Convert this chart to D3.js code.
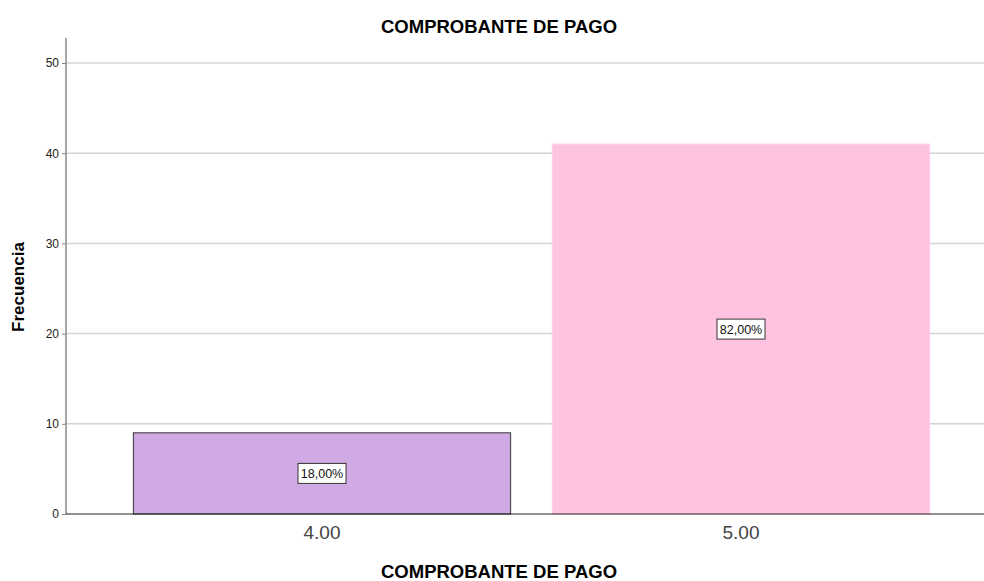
<!DOCTYPE html>
<html>
<head>
<meta charset="utf-8">
<script src="https://d3js.org/d3.v7.min.js"></script>
<style>
  body { margin: 0; background: #fff; }
  text { font-family: Arial, "Liberation Sans", sans-serif; }
</style>
</head>
<body>
<script>
// datos
var categorias = ["4.00", "5.00"];
var frecuencias = [9, 41];
var porcentajes = ["18,00%", "82,00%"];
var ticksY = [0, 10, 20, 30, 40, 50];
var colores = ["#d0aae4", "#fec3e1"];
var bordes = ["#4d4d4d", "#fdd0e6"];

var width = 984, height = 581;
var margin = { top: 38, right: 0, bottom: 67, left: 66 };

var svg = d3.select("body").append("svg")
  .attr("width", width)
  .attr("height", height);

var escalaY = d3.scaleLinear()
  .domain([0, 50])
  .range([514, 63]);

var escalaX = d3.scaleBand()
  .domain(categorias)
  .range([112.5, 950.5])
  .paddingInner(0.1)
  .paddingOuter(0.05);

// lineas de cuadricula
svg.append("g")
  .selectAll("line")
  .data(ticksY.filter(function(d) { return d > 0; }))
  .join("line")
  .attr("x1", margin.left)
  .attr("x2", width)
  .attr("y1", function(d) { return escalaY(d); })
  .attr("y2", function(d) { return escalaY(d); })
  .attr("stroke", "#d4d4d4")
  .attr("stroke-width", 1.5);

// eje Y
var ejeY = d3.axisLeft(escalaY).tickValues(ticksY).tickSize(4).tickPadding(3);
var gY = svg.append("g")
  .attr("transform", "translate(" + margin.left + ",0)")
  .call(ejeY);
gY.select(".domain").attr("d", "M0," + margin.top + "V" + escalaY(0)).attr("stroke", "#888").attr("stroke-width", 1.5);
gY.selectAll(".tick line").attr("stroke", "#888");
gY.selectAll(".tick text").style("font-size", "12px").attr("fill", "#222");

// barras
svg.append("g")
  .selectAll("rect")
  .data(frecuencias)
  .join("rect")
  .attr("x", function(d, i) { return escalaX(categorias[i]); })
  .attr("y", function(d) { return escalaY(d); })
  .attr("width", escalaX.bandwidth())
  .attr("height", function(d) { return escalaY(0) - escalaY(d); })
  .attr("fill", function(d, i) { return colores[i]; })
  .attr("stroke", function(d, i) { return bordes[i]; })
  .attr("stroke-width", 1.2);

// eje X
var ejeX = d3.axisBottom(escalaX).tickSize(0).tickPadding(12);
var gX = svg.append("g")
  .attr("transform", "translate(0," + escalaY(0) + ")")
  .call(ejeX);
gX.select(".domain").attr("d", "M" + margin.left + ",0H" + width).attr("stroke", "#222").attr("stroke-width", 1.2);
gX.selectAll(".tick text").style("font-size", "19px").attr("fill", "#444");

// etiquetas de porcentaje
var etiquetas = svg.append("g")
  .selectAll("g")
  .data(frecuencias)
  .join("g")
  .attr("transform", function(d, i) {
    return "translate(" + (escalaX(categorias[i]) + escalaX.bandwidth() / 2) + "," + escalaY(d / 2) + ")";
  });

etiquetas.append("rect")
  .attr("x", -24)
  .attr("y", -10)
  .attr("width", 48)
  .attr("height", 20)
  .attr("fill", "#fff")
  .attr("stroke", "#333")
  .attr("stroke-width", 1);

etiquetas.append("text")
  .attr("text-anchor", "middle")
  .attr("dy", "0.36em")
  .style("font-size", "12.5px")
  .attr("fill", "#111")
  .text(function(d, i) { return porcentajes[i]; });

// titulos
svg.append("text")
  .attr("x", 499)
  .attr("y", 33)
  .attr("text-anchor", "middle")
  .style("font-size", "18.5px")
  .style("font-weight", "bold")
  .text("COMPROBANTE DE PAGO");

svg.append("text")
  .attr("x", 499)
  .attr("y", 578)
  .attr("text-anchor", "middle")
  .style("font-size", "18.5px")
  .style("font-weight", "bold")
  .text("COMPROBANTE DE PAGO");

svg.append("text")
  .attr("transform", "translate(24," + 287 + ") rotate(-90)")
  .attr("text-anchor", "middle")
  .style("font-size", "17px")
  .style("font-weight", "bold")
  .text("Frecuencia");
</script>
</body>
</html>
